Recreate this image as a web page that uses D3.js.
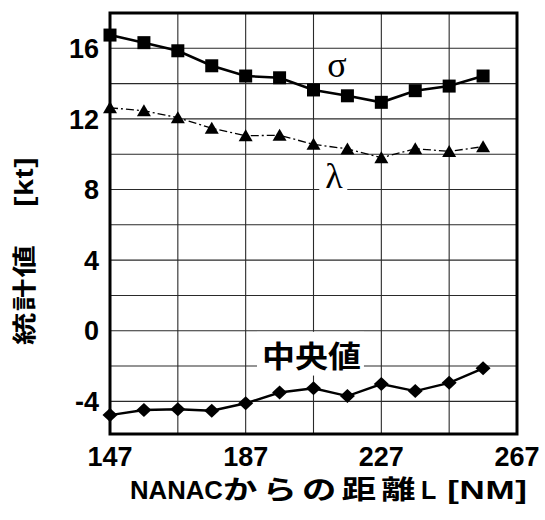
<!DOCTYPE html>
<html>
<head>
<meta charset="utf-8">
<script src="https://cdn.jsdelivr.net/npm/d3@7/dist/d3.min.js"></script>
<style>
  html, body { margin: 0; padding: 0; background: #fff; }
  svg { display: block; }
</style>
</head>
<body>
<svg id="chart" width="545" height="520"></svg>
<script>
// Distance from NANAC [NM] for each sample point
const distances = [147, 157, 167, 177, 187, 197, 207, 217, 227, 237, 247, 257];
// Standard deviation σ [kt]
const sigmaValues = [16.75, 16.32, 15.86, 15.01, 14.43, 14.33, 13.64, 13.31, 12.94, 13.60, 13.86, 14.43];
// λ [kt]
const lambdaValues = [12.63, 12.46, 12.07, 11.47, 11.05, 11.07, 10.56, 10.30, 9.80, 10.31, 10.16, 10.43];
// Median [kt]
const medianValues = [-4.78, -4.49, -4.45, -4.53, -4.11, -3.50, -3.26, -3.70, -3.02, -3.42, -2.95, -2.13];

const xTicks = [147, 187, 227, 267];
const xGrid = [167, 187, 207, 227, 247];
const yTicks = [16, 12, 8, 4, 0, -4];
const yGrid = [-4, -2, 0, 2, 4, 6, 8, 10, 12, 14, 16];

const svg = d3.select("#chart");
const plot = { left: 110, right: 517, top: 13, bottom: 434 };

const x = d3.scaleLinear().domain([147, 267]).range([plot.left, plot.right]);
const y = d3.scaleLinear().domain([-5.85, 18]).range([plot.bottom, plot.top]);

const sans = "'Liberation Sans', Arial, Helvetica, sans-serif";
const cjk = "'Noto Sans CJK JP', 'Noto Sans CJK SC', sans-serif";
const serif = "'Liberation Serif', 'Times New Roman', serif";

// grid
const grid = svg.append("g").attr("stroke", "#2a2a2a").attr("stroke-width", 1.1);
grid.selectAll("line.h").data(yGrid).join("line")
  .attr("class", "h")
  .attr("x1", plot.left).attr("x2", plot.right)
  .attr("y1", d => y(d)).attr("y2", d => y(d));
grid.selectAll("line.v").data(xGrid).join("line")
  .attr("class", "v")
  .attr("y1", plot.top).attr("y2", plot.bottom)
  .attr("x1", d => x(d)).attr("x2", d => x(d));

// tick labels
svg.append("g").selectAll("text").data(yTicks).join("text")
  .attr("x", plot.left - 11)
  .attr("y", d => y(d))
  .attr("dy", "0.36em")
  .attr("text-anchor", "end")
  .attr("font-family", sans).attr("font-weight", "bold").attr("font-size", 27)
  .text(d => d < 0 ? "-" + Math.abs(d) : d);

svg.append("g").selectAll("text").data(xTicks).join("text")
  .attr("x", d => x(d))
  .attr("y", 466)
  .attr("text-anchor", "middle")
  .attr("font-family", sans).attr("font-weight", "bold").attr("font-size", 27)
  .text(d => d);

// Lays out a run of text pieces one after another along the group's x axis;
// each piece may be stretched horizontally and spaced.
function textRun(parent, pieces) {
  let cursor = 0;
  pieces.forEach(p => {
    cursor += p.gap || 0;
    const sx = p.scaleX || 1;
    const t = parent.append("text")
      .attr("transform", `translate(${cursor},0) scale(${sx},1)`)
      .attr("font-family", p.family)
      .attr("font-weight", p.weight || "bold")
      .attr("font-size", p.size)
      .attr("letter-spacing", p.spacing || 0)
      .text(p.text);
    cursor += t.node().getComputedTextLength() * sx;
  });
  return cursor;
}

// x axis title
const xTitle = svg.append("g").attr("transform", "translate(130,499)");
textRun(xTitle, [
  { text: "NANAC", family: sans, size: 25, scaleX: 1.03 },
  { text: "からの距離", family: cjk, weight: 700, size: 26, scaleX: 1.32, spacing: 4 },
  { text: "L", family: sans, size: 25 },
  { text: "[NM]", family: sans, size: 25, scaleX: 1.4, spacing: 0.5, gap: 11 }
]);

// y axis title (reads bottom to top)
const yTitle = svg.append("g").attr("transform", "translate(33,345) rotate(-90)");
textRun(yTitle, [
  { text: "統計値", family: cjk, weight: 700, size: 24, scaleX: 1.35, spacing: 1 },
  { text: "[kt]", family: sans, size: 25, scaleX: 1.22, spacing: 0.5, gap: 37 }
]);

// series lines
const line = vals => d3.line().x((d, i) => x(distances[i])).y(d => y(d))(vals);

svg.append("path").attr("d", line(sigmaValues))
  .attr("fill", "none").attr("stroke", "#000").attr("stroke-width", 2.6);
svg.append("path").attr("d", line(lambdaValues))
  .attr("fill", "none").attr("stroke", "#000").attr("stroke-width", 1.3)
  .attr("stroke-dasharray", "8,3,2,3");
svg.append("path").attr("d", line(medianValues))
  .attr("fill", "none").attr("stroke", "#000").attr("stroke-width", 2.4);

// markers
svg.append("g").selectAll("rect").data(sigmaValues).join("rect")
  .attr("x", (d, i) => x(distances[i]) - 6.5)
  .attr("y", d => y(d) - 6.5)
  .attr("width", 13).attr("height", 13)
  .attr("fill", "#000");

const tri = (cx, cy) => `M${cx},${cy - 6.5}L${cx + 7},${cy + 5.5}L${cx - 7},${cy + 5.5}Z`;
svg.append("g").selectAll("path").data(lambdaValues).join("path")
  .attr("d", (d, i) => tri(x(distances[i]), y(d)))
  .attr("fill", "#000");

const dia = (cx, cy) => `M${cx},${cy - 7}L${cx + 7.5},${cy}L${cx},${cy + 7}L${cx - 7.5},${cy}Z`;
svg.append("g").selectAll("path").data(medianValues).join("path")
  .attr("d", (d, i) => dia(x(distances[i]), y(d)))
  .attr("fill", "#000");

// series labels (white backing where a label sits on a grid line)
function label(text, px, py, opts) {
  const g = svg.append("g").attr("transform", `translate(${px},${py})`);
  const bg = g.append("rect").attr("fill", "#fff");
  const t = g.append("text")
    .attr("transform", `scale(${opts.scaleX || 1},1)`)
    .attr("text-anchor", opts.anchor || "start")
    .attr("font-family", opts.family)
    .attr("font-weight", opts.weight || "normal")
    .attr("font-size", opts.size)
    .text(text);
  if (opts.backing) {
    const b = t.node().getBBox();
    const sx = opts.scaleX || 1;
    bg.attr("x", b.x * sx - opts.backing[0]).attr("y", b.y)
      .attr("width", b.width * sx + opts.backing[0] + opts.backing[1]).attr("height", b.height);
  }
}
label("σ", 337, 77, { anchor: "middle", family: serif, size: 36 });
label("λ", 334, 188, { anchor: "middle", family: serif, size: 36, backing: [6, 4] });
label("中央値", 262, 367, { family: cjk, weight: 700, size: 30, scaleX: 1.1, backing: [5, 3] });

// frame
svg.append("rect")
  .attr("x", plot.left).attr("y", plot.top)
  .attr("width", plot.right - plot.left).attr("height", plot.bottom - plot.top)
  .attr("fill", "none").attr("stroke", "#000").attr("stroke-width", 3);
</script>
</body>
</html>
